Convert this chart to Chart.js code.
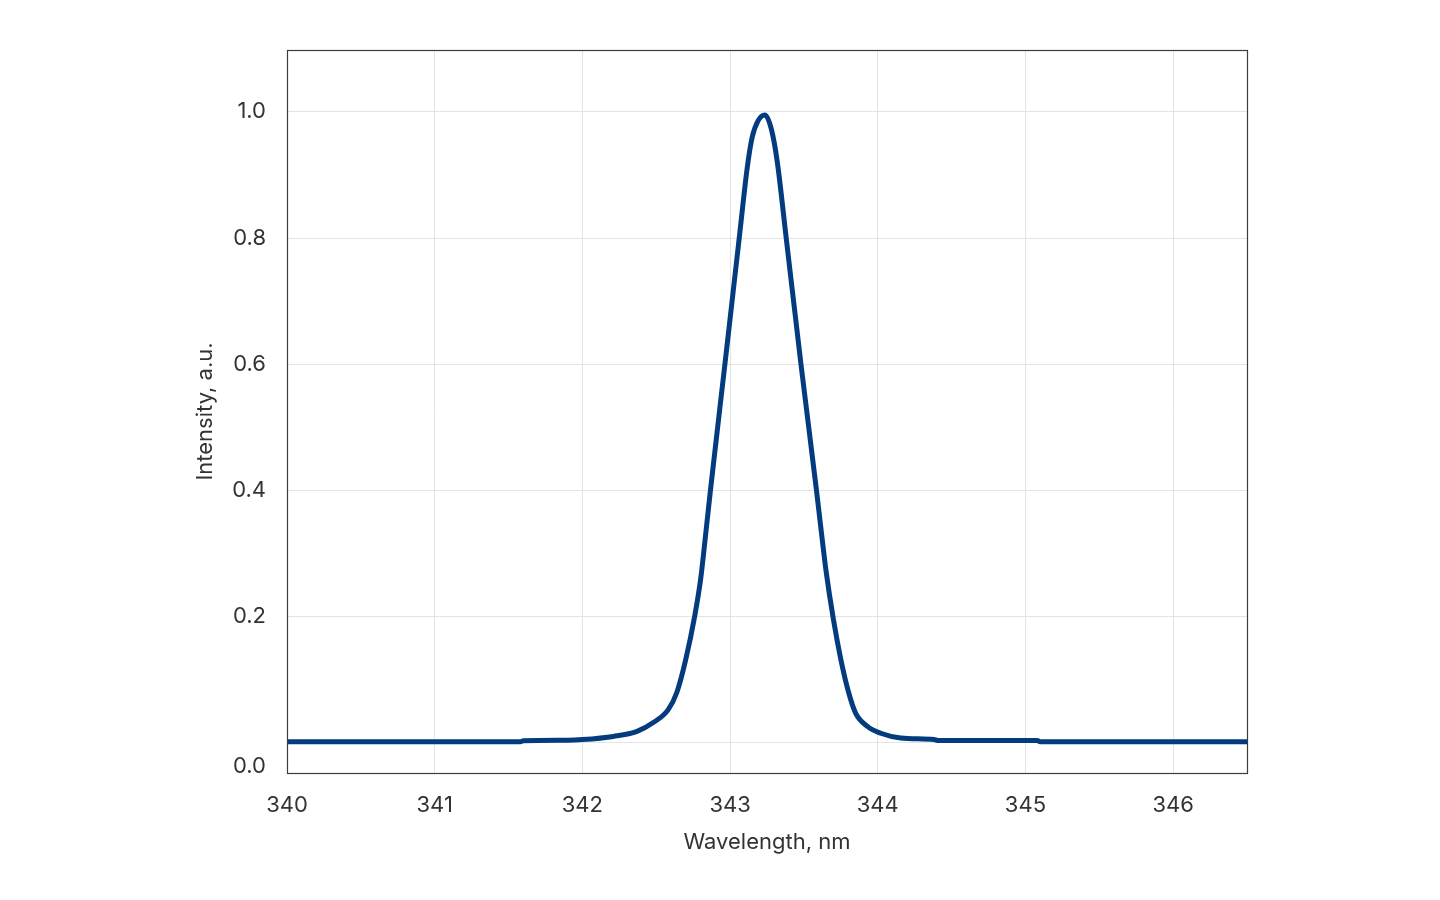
<!DOCTYPE html>
<html>
<head>
<meta charset="utf-8">
<script src="https://cdn.jsdelivr.net/npm/chart.js@4.4.4/dist/chart.umd.min.js"></script>
<style>
  html, body { margin: 0; padding: 0; background: #ffffff; }
  #wrap { width: 1440px; height: 900px; position: relative; }
</style>
</head>
<body>
<div id="wrap"><canvas id="chart"></canvas></div>
<script>
// Emission line
const wavelengths = [
  340.0, 341.0, 341.58, 341.6, 341.9, 342.0, 342.21, 342.37, 342.48, 342.58,
  342.64, 342.70, 342.76, 342.80, 342.83, 342.867, 342.965, 343.062, 343.117, 343.15,
  343.19, 343.236, 343.28, 343.32, 343.38, 343.48, 343.585, 343.62, 343.65, 343.70,
  343.75, 343.80, 343.85, 343.93, 344.02, 344.156, 344.38, 344.41, 345.08, 345.1, 346.5
];
const intensity = [
  0.0015, 0.0015, 0.0015, 0.003, 0.004, 0.005, 0.010, 0.018, 0.032, 0.052,
  0.080, 0.132, 0.200, 0.258, 0.32, 0.40, 0.60, 0.80, 0.913, 0.960,
  0.986, 0.995, 0.972, 0.92, 0.80, 0.60, 0.40, 0.33, 0.272, 0.195,
  0.132, 0.082, 0.047, 0.026, 0.015, 0.0075, 0.005, 0.0036, 0.0036, 0.0015, 0.0015
];

const xTickValues = [340, 341, 342, 343, 344, 345, 346];
// the "0.0" label sits below the zero line in the original, zero itself has only a grid line
const yTickValues = [-0.038, 0, 0.2, 0.4, 0.6, 0.8, 1.0];
const yTickLabels = ['0.0', '', '0.2', '0.4', '0.6', '0.8', '1.0'];

const textColor = '#333333';
const gridColor = '#e3e3e3';
const frameColor = '#3c3c3c';
const lineColor = '#043b7e';
const fontFamily = 'Inter, "Liberation Sans", Arial, sans-serif';

const points = wavelengths.map(function (w, i) { return { x: w, y: intensity[i] }; });

// full box round the plot area (top and right included)
const frame = {
  id: 'frame',
  afterDatasetsDraw: function (chart) {
    const a = chart.chartArea;
    const ctx = chart.ctx;
    ctx.save();
    ctx.strokeStyle = frameColor;
    ctx.lineWidth = 1.2;
    ctx.strokeRect(Math.round(a.left) + 0.5, Math.round(a.top) + 0.5,
      Math.round(a.right - a.left), Math.round(a.bottom - a.top));
    ctx.restore();
  }
};

new Chart(document.getElementById('chart'), {
  type: 'line',
  data: {
    datasets: [{
      data: points,
      borderColor: lineColor,
      borderWidth: 5,
      pointRadius: 0,
      pointHoverRadius: 0,
      cubicInterpolationMode: 'monotone',
      borderCapStyle: 'round',
      borderJoinStyle: 'round',
      fill: false
    }]
  },
  options: {
    responsive: true,
    maintainAspectRatio: false,
    animation: false,
    layout: { padding: { left: 180, right: 193, top: 50, bottom: 30 } },
    plugins: {
      legend: { display: false },
      tooltip: { enabled: false }
    },
    scales: {
      x: {
        type: 'linear',
        min: 340,
        max: 346.5,
        afterBuildTicks: function (scale) {
          scale.ticks = xTickValues.map(function (v) { return { value: v }; });
        },
        afterFit: function (scale) { scale.height = 97; },
        grid: { color: gridColor, lineWidth: 1, drawTicks: false },
        border: { display: false },
        ticks: {
          color: textColor,
          padding: 19,
          font: { family: fontFamily, size: 22 },
          callback: function (v) { return String(v); }
        },
        title: {
          display: true,
          text: 'Wavelength, nm',
          color: textColor,
          font: { family: fontFamily, size: 22 },
          padding: { top: 0, bottom: 14 }
        }
      },
      y: {
        type: 'linear',
        min: -0.048,
        max: 1.098,
        afterBuildTicks: function (scale) {
          scale.ticks = yTickValues.map(function (v) { return { value: v }; });
        },
        afterFit: function (scale) { scale.width = 107; },
        grid: {
          drawTicks: false,
          lineWidth: 1,
          color: function (c) { return c.tick && c.tick.value < 0 ? 'rgba(0,0,0,0)' : gridColor; }
        },
        border: { display: false },
        ticks: {
          color: textColor,
          padding: 21,
          font: { family: fontFamily, size: 22 },
          callback: function (v, i) { return yTickLabels[i]; }
        },
        title: {
          display: true,
          text: 'Intensity, a.u.',
          color: textColor,
          font: { family: fontFamily, size: 22 },
          padding: { top: 12, bottom: 0 }
        }
      }
    }
  },
  plugins: [frame]
});
</script>
</body>
</html>
